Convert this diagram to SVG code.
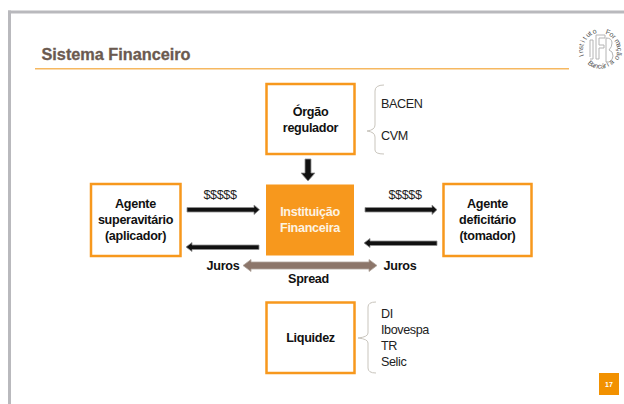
<svg xmlns="http://www.w3.org/2000/svg" width="624" height="404" viewBox="0 0 624 404">
<style>
text{font-family:"Liberation Sans",Arial,sans-serif}
.box{fill:#fff;stroke:#f7981d;stroke-width:2.5}
.lab{font-size:12.600px;letter-spacing:-.3px;font-weight:bold;fill:#111;text-anchor:middle}
.inv{fill:#fdf3e2}
.item{font-size:12.600px;letter-spacing:-.4px;fill:#222}
.brace{fill:none;stroke:#c9c5bd;stroke-width:1}
.arr{fill:#111;stroke:#8f8f8f;stroke-width:.8}
.logo{font-size:7px;fill:#505050}
</style>
<rect width="624" height="404" fill="#fff"/>
<g id="frame" fill="#b9b9bd">
<rect x="8" y="10.500" width="616" height="3"/>
<rect x="8" y="10.500" width="3" height="393.500"/>
</g>
<g id="title">
<text x="41.500" y="59.500" font-size="16.300" font-weight="bold" fill="#6b5a4f" stroke="#6b5a4f" stroke-width=".3" textLength="149">Sistema Financeiro</text>
<rect x="35" y="68" width="534" height="1.500" fill="#f6b860"/>
</g>
<g id="logo">
<g fill="none" stroke="#b4b4b4" stroke-width="1">
<path d="M590 57V40H593V59H590"/>
<path d="M596 59V35H605V38H599V45H604V48H599V59Z"/>
<path d="M606 38V62H609Q613 60 613 56Q613 51 609 50Q612 47 612 43Q612 38 606 38Z"/>
</g>
<text class="logo" x="584 583.200 583 583.400 584.500 586.100 588.200 590.700 593.600" y="55.800 52.700 49.400 46.200 43.100 40.200 37.800 35.700 34.200" rotate="-110 -99 -88 -77 -66 -55 -44 -33 -22">Instituto</text>
<text class="logo" x="605.300 608.800 611.800 614.300 616 616.900 616.900 616.100" y="33.800 35.400 37.800 40.700 44.200 47.900 51.800 55.500" rotate="18 31 44 57 70 83 96 109">Formação</text>
<text class="logo" x="587.300 590.500 593.800 597.400 601 604.600 608 611.200" y="63.600 66 67.500 68.300 68.500 67.900 66.700 64.900" rotate="42 30 19 8 -3 -14 -25 -36">Bancária</text>
</g>
<g id="connectors">
<path class="arr" d="M305 159H311V173H315L308 181L301 173H305Z"/>
<path class="arr" d="M187 207.500H254V205L259.500 209.700L254 214.500V212H187Z"/>
<path class="arr" d="M259 245H192V242.500L186 247L192 251.500V249.500H259Z"/>
<path class="arr" d="M365 207.500H432V205L437 209.700L432 214.500V212H365Z"/>
<path class="arr" d="M437 241H370V238.500L364 243L370 247.500V245.500H437Z"/>
<path d="M243 265.500L251 259.500V262H369V259.500L377 265.500L369 271.500V269H251V271.500Z" fill="#8c766a" stroke="#b0a49c" stroke-width=".8"/>
<path class="brace" d="M384 85Q375 85 375 91V125Q375 130 367 131Q375 132 375 137V150Q375 154 384 154"/>
<path class="brace" d="M376 302Q368 302 368 307V333Q368 337 358 338Q368 339 368 343V368Q368 373 376 373"/>
</g>
<g id="node-orgao">
<rect class="box" x="266.500" y="84" width="88" height="70"/>
<text class="lab" x="310.500" y="116">Órgão</text>
<text class="lab" x="310.500" y="132">regulador</text>
</g>
<g id="node-superavitario">
<rect class="box" x="91" y="184" width="89.500" height="72"/>
<text class="lab" x="135.500" y="208">Agente</text>
<text class="lab" x="135.500" y="224">superavitário</text>
<text class="lab" x="135.500" y="240">(aplicador)</text>
</g>
<g id="node-instituicao">
<rect x="266" y="184.500" width="88" height="71" fill="#f7981d"/>
<text class="lab inv" x="310" y="216" style="fill:#fdf3e2">Instituição</text>
<text class="lab inv" x="310" y="232" style="fill:#fdf3e2">Financeira</text>
</g>
<g id="node-deficitario">
<rect class="box" x="443.500" y="184" width="88" height="72"/>
<text class="lab" x="487.500" y="208">Agente</text>
<text class="lab" x="487.500" y="224">deficitário</text>
<text class="lab" x="487.500" y="240">(tomador)</text>
</g>
<g id="node-liquidez">
<rect class="box" x="266.500" y="302.500" width="88" height="70.500"/>
<text class="lab" x="310.500" y="342">Liquidez</text>
</g>
<g id="labels">
<text class="item" x="203.500" y="199">$$$$$</text>
<text class="item" x="388.500" y="199">$$$$$</text>
<text class="lab" x="223" y="270">Juros</text>
<text class="lab" x="400" y="270">Juros</text>
<text class="lab" x="308.500" y="283">Spread</text>
<text class="item" x="381" y="108">BACEN</text>
<text class="item" x="381" y="140">CVM</text>
<text class="item" x="381" y="318">DI</text>
<text class="item" x="381" y="334">Ibovespa</text>
<text class="item" x="381" y="350">TR</text>
<text class="item" x="381" y="366">Selic</text>
</g>
<g id="page">
<rect x="599" y="373" width="20" height="22" fill="#f29100"/>
<text x="609" y="387" font-size="7px" font-weight="bold" fill="#fff" text-anchor="middle">17</text>
</g>
</svg>
